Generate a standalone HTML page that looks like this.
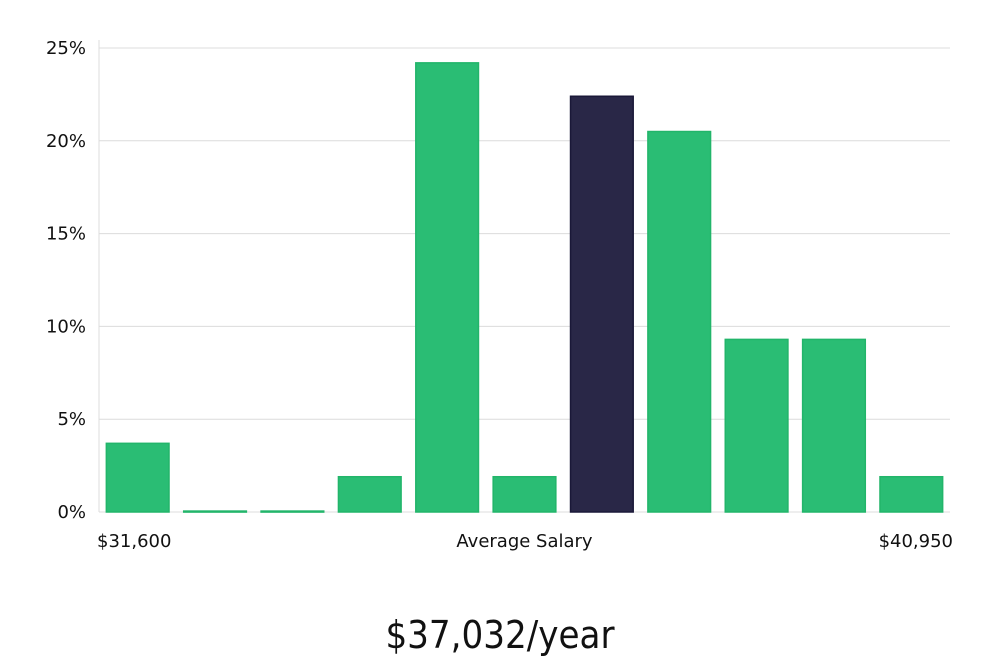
<!DOCTYPE html>
<html><head><meta charset="utf-8"><style>
html,body{margin:0;padding:0;background:#fff;}
svg{display:block;}
text{font-family:"DejaVu Sans","Liberation Sans",sans-serif;fill:#111;}
</style></head><body>
<svg id="chart" width="1000" height="660" viewBox="0 0 1000 660">
<g id="grid"></g><g id="bars"></g><g id="labels"></g>
<text x="500" y="648" text-anchor="middle" style="font-family:'Liberation Sans Narrow','DejaVu Sans Condensed','Liberation Sans',sans-serif;font-size:38px;">$37,032/year</text>
</svg>
<script>
const categories=["b1","b2","b3","b4","b5","b6","b7","b8","b9","b10","b11"];
const values=[3.7,0.05,0.05,1.9,24.2,1.9,22.4,20.5,9.3,9.3,1.9];
const highlight=[false,false,false,false,false,false,true,false,false,false,false];
const yTicks=[0,5,10,15,20,25];
const yTickLabels=["0%","5%","10%","15%","20%","25%"];
const xLabels=["$31,600","Average Salary","$40,950"];
const NS="http://www.w3.org/2000/svg";
const x0=99,x1=950,y0=512,yTop=48,yMax=25;
const y=v=>y0-(v/yMax)*(y0-yTop);
const slot=(x1-x0)/categories.length;
const xs=i=>x0+i*slot;
function mk(t,a,p){const e=document.createElementNS(NS,t);for(const k in a)e.setAttribute(k,a[k]);p.appendChild(e);return e;}
const g=document.getElementById('grid');
yTicks.forEach((t,i)=>{
 const l=mk('line',{x1:x0,x2:x1,y1:y(t),y2:y(t),stroke:'#dcdcdc','stroke-width':1},g);
 
 
 const tx=mk('text',{x:86,y:y(t)+6,'text-anchor':'end','font-size':18},g);
 tx.textContent=yTickLabels[i];
 
 
});
const ax=mk('line',{x1:x0,x2:x0,y1:40,y2:y0,stroke:'#dcdcdc','stroke-width':1},g);


const b=document.getElementById('bars');
values.forEach((v,i)=>{
 const w=slot*0.81;
 const bx=xs(i)+(slot-w)/2;
 const top=y(v);
 const r=mk('rect',{x:bx,y:top,width:w,height:Math.max(y0-top,1),fill:highlight[i]?'#292747':'#2abd74',stroke:highlight[i]?'#1a1838':'#22b56a','stroke-width':1.5},b);
 
 
});
const lb=document.getElementById('labels');
[[97,'start'],[524.5,'middle'],[953,'end']].forEach((p,i)=>{
 const t=mk('text',{x:p[0],y:547,'text-anchor':p[1],'font-size':18},lb);
 t.textContent=xLabels[i];
 
 
});
</script>
</body></html>
